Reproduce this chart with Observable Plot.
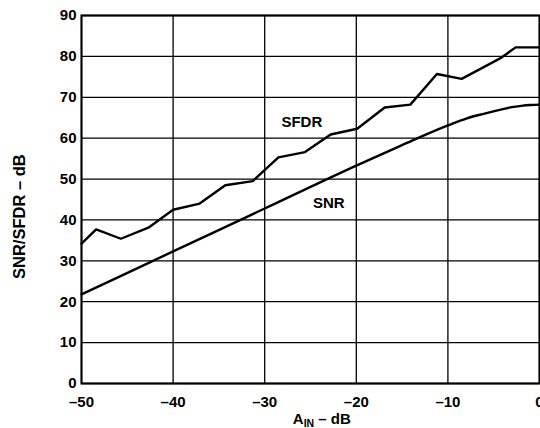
<!DOCTYPE html>
<html>
<head>
<meta charset="utf-8">
<script src="https://cdn.jsdelivr.net/npm/d3@7"></script>
<script src="https://cdn.jsdelivr.net/npm/@observablehq/plot@0.6"></script>
<style>
  html, body { margin: 0; padding: 0; background: #fff; }
  #chart svg { display: block; }
</style>
</head>
<body>
<div id="chart"></div>
<script>
// Input amplitude (dB) and measured SFDR (dB)
const sfdrX = [-50, -48.4, -45.7, -42.7, -40, -37.1, -34.3, -31.3, -28.5, -25.6, -22.8, -19.9, -16.9, -14.1, -11.2, -8.5, -4.3, -2.6, 0];
const sfdrY = [34.2, 37.7, 35.4, 38.1, 42.5, 44.0, 48.5, 49.5, 55.3, 56.6, 60.9, 62.3, 67.5, 68.2, 75.7, 74.5, 79.5, 82.2, 82.2];
// Input amplitude (dB) and SNR (dB)
const snrX = [-50, -40, -30, -20, -15, -10, -8, -6, -4, -3, -2, -1, 0];
const snrY = [21.8, 32.3, 42.8, 53.3, 58.3, 63.1, 64.8, 66.0, 67.1, 67.6, 67.9, 68.1, 68.2];
// Axis ticks
const xTicks = [-50, -40, -30, -20, -10, 0];
const yTicks = [0, 10, 20, 30, 40, 50, 60, 70, 80, 90];
// Curve labels
const labelNames = ["SFDR", "SNR"];
const labelX = [-25.95, -23.0];
const labelY = [63.9, 44.1];

const sfdr = sfdrX.map((x, i) => ({x, y: sfdrY[i]}));
const snr = snrX.map((x, i) => ({x, y: snrY[i]}));
const labels = labelNames.map((t, i) => ({t, x: labelX[i], y: labelY[i]}));

const fmt = d => d < 0 ? "\u2013" + Math.abs(d) : String(d);
const font = "'Liberation Sans', Arial, Helvetica, sans-serif";

const plot = Plot.plot({
  width: 540,
  height: 428,
  marginLeft: 81,
  marginRight: 1,
  marginTop: 15,
  marginBottom: 45,
  style: {fontFamily: font, fontSize: "15px", fontWeight: "bold", color: "#000", background: "#fff", overflow: "visible"},
  x: {domain: [-50, 0]},
  y: {domain: [0, 90]},
  marks: [
    Plot.gridX(xTicks, {stroke: "#000", strokeOpacity: 1, strokeWidth: 1.3}),
    Plot.gridY(yTicks, {stroke: "#000", strokeOpacity: 1, strokeWidth: 1.3}),
    Plot.frame({stroke: "#000", strokeWidth: 2}),
    Plot.axisX(xTicks, {tickSize: 0, tickPadding: 13, tickFormat: fmt, label: null, fontSize: 15, fontWeight: "bold"}),
    Plot.axisY(yTicks, {tickSize: 0, tickPadding: 5, tickFormat: fmt, label: null, fontSize: 15, fontWeight: "bold"}),
    Plot.line(snr, {x: "x", y: "y", stroke: "#000", strokeWidth: 2.4, curve: "monotone-x"}),
    Plot.line(sfdr, {x: "x", y: "y", stroke: "#000", strokeWidth: 2.4, strokeLinejoin: "miter"}),
    Plot.text(labels, {x: "x", y: "y", text: "t", fontSize: 15, fontWeight: "bold", fill: "#000"})
  ]
});

const svg = d3.select(plot);
// X axis title with subscript
const xt = svg.append("text")
  .attr("x", 321.8).attr("y", 424)
  .attr("text-anchor", "middle")
  .attr("font-family", font).attr("font-weight", "bold").attr("font-size", 15).attr("fill", "#000");
xt.append("tspan").text("A");
xt.append("tspan").attr("font-size", 10.5).attr("dy", 3).text("IN");
xt.append("tspan").attr("dy", -3).text(" \u2013 dB");
// Y axis title
svg.append("text")
  .attr("transform", "translate(25,216.7) rotate(-90)")
  .attr("text-anchor", "middle")
  .attr("font-family", font).attr("font-weight", "bold").attr("font-size", 16.5).attr("fill", "#000")
  .text("SNR/SFDR \u2013 dB");

document.getElementById("chart").appendChild(plot);
</script>
</body>
</html>
